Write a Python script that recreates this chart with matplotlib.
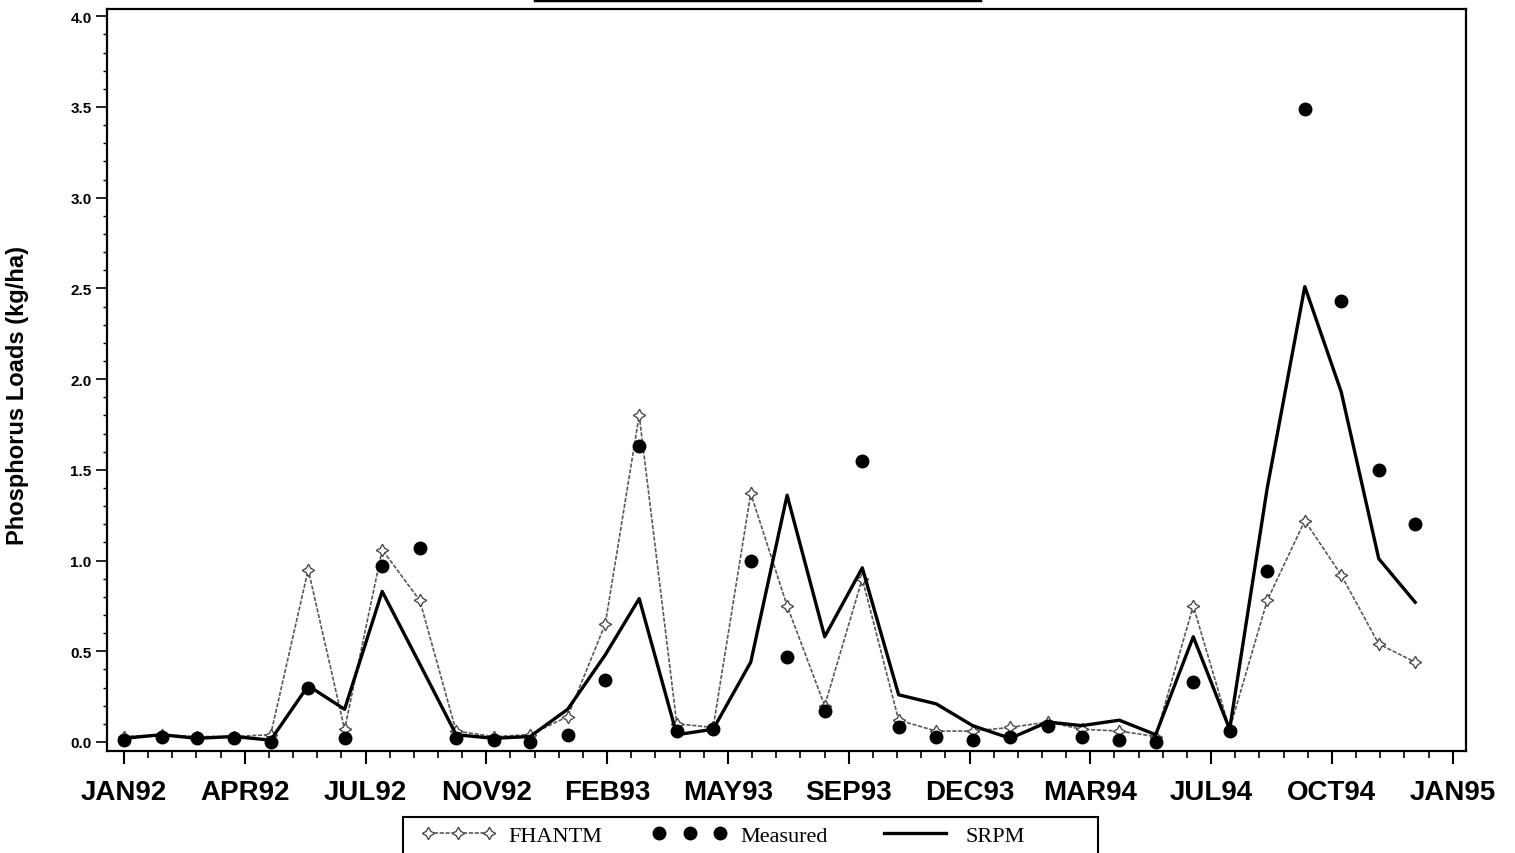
import numpy as np
import pandas as pd
import matplotlib
matplotlib.use('Agg')
import matplotlib.pyplot as plt
from matplotlib.lines import Line2D
from matplotlib.patches import Rectangle
from matplotlib.ticker import MultipleLocator, AutoMinorLocator

# monthly values Jan 1992 .. Dec 1994
months = pd.date_range('1992-01-01', periods=36, freq='MS')

fhantm = [0.03, 0.04, 0.03, 0.03, 0.04, 0.95, 0.07, 1.06, 0.78, 0.06, 0.03, 0.04,
          0.14, 0.65, 1.80, 0.10, 0.08, 1.37, 0.75, 0.20, 0.90, 0.12, 0.06, 0.06,
          0.08, 0.11, 0.07, 0.06, 0.03, 0.75, 0.07, 0.78, 1.22, 0.92, 0.54, 0.44]

measured = [0.01, 0.03, 0.02, 0.02, 0.00, 0.30, 0.02, 0.97, 1.07, 0.02, 0.01, 0.00,
            0.04, 0.34, 1.63, 0.06, 0.07, 1.00, 0.47, 0.17, 1.55, 0.08, 0.03, 0.01,
            0.03, 0.09, 0.03, 0.01, 0.00, 0.33, 0.06, 0.94, 3.49, 2.43, 1.50, 1.20]

srpm = [0.02, 0.04, 0.02, 0.03, 0.01, 0.31, 0.18, 0.83, 0.43, 0.04, 0.02, 0.03,
        0.18, 0.48, 0.79, 0.04, 0.07, 0.44, 1.36, 0.58, 0.96, 0.26, 0.21, 0.09,
        0.02, 0.11, 0.09, 0.12, 0.04, 0.58, 0.07, 1.40, 2.51, 1.93, 1.01, 0.77]

tick_labels = ['JAN92', 'APR92', 'JUL92', 'NOV92', 'FEB93', 'MAY93',
               'SEP93', 'DEC93', 'MAR94', 'JUL94', 'OCT94', 'JAN95']

start = pd.Timestamp('1992-01-01')
end = pd.Timestamp('1995-01-01')
x = (months - start).days.values                      # Tage seit JAN92
span = (end - start).days
ticks = np.arange(12) * span / 11.0

W, H = 1515.0, 854.0
fig = plt.figure(figsize=(15.15, 8.54), dpi=100)
ax = fig.add_axes([0.0706, 0.1194, 0.8971, 0.8689])

ax.plot(x, fhantm, color='0.35', lw=1.2, ls=(0, (2.5, 1)),
        marker=(4, 1, 0), ms=9, mfc='white', mec='0.3', mew=1.0, label='FHANTM')
ax.plot(x, measured, ls='none', marker='o', ms=9, color='black', label='Measured')
ax.plot(x, srpm, color='black', lw=2.4, label='SRPM')

ax.set_xlim(-14, 1107)
ax.set_ylim(-0.05, 4.04)

ax.set_xticks(ticks)
ax.set_xticklabels(tick_labels, fontsize=20, fontweight='bold', family='Liberation Sans')
ax.xaxis.set_minor_locator(AutoMinorLocator(5))
ax.yaxis.set_minor_locator(MultipleLocator(0.1))
ax.set_yticks(np.arange(0, 4.01, 0.5))
ax.set_yticklabels(['%.1f' % v for v in np.arange(0, 4.01, 0.5)],
                   fontsize=11, fontweight='bold', family='Liberation Sans')

ax.tick_params(axis='x', which='major', direction='out', length=9, width=1.5, pad=11)
ax.tick_params(axis='x', which='minor', direction='out', length=5, width=1.2)
ax.tick_params(axis='y', which='major', direction='out', length=8, width=1.2, pad=3)
ax.tick_params(axis='y', which='minor', direction='out', length=3, width=1.0)
for s in ax.spines.values():
    s.set_linewidth(1.6)

ax.set_ylabel('Phosphorus Loads (kg/ha)', fontsize=17, fontweight='bold',
              family='Liberation Sans')
ax.yaxis.set_label_coords(-0.0575, 0.481)

# abgeschnittener Rahmen oben
fig.add_artist(Line2D([535/W, 980/W], [0.9985, 0.9985], color='black', lw=2.5))

# Legendenrahmen, unten abgeschnitten
fig.add_artist(Rectangle((403/W, -0.02), 695/W, 1-818/H + 0.02, fill=False,
                         edgecolor='black', lw=1.5))
leg = fig.legend(loc='center left', bbox_to_anchor=(421/W, 1-837/H), ncol=3,
                 frameon=False, numpoints=3,
                 handlelength=3.35, handletextpad=0.6, columnspacing=2.25,
                 borderpad=0, borderaxespad=0,
                 prop={'family': 'Liberation Serif', 'size': 16})

fig.savefig('out.png', dpi=100)
